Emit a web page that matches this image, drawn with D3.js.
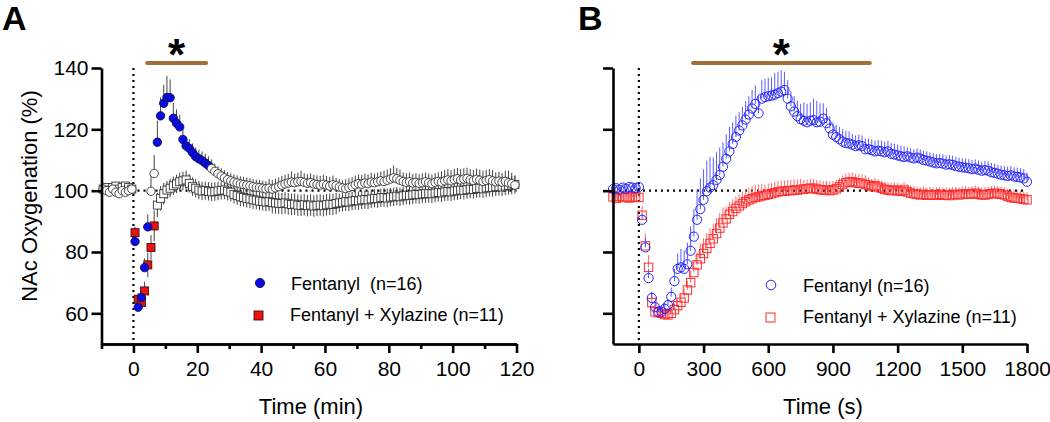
<!DOCTYPE html>
<html>
<head>
<meta charset="utf-8">
<script src="https://cdn.jsdelivr.net/npm/d3@7"></script>
<style>
  body { margin: 0; background: #fff; }
  svg text { font-family: Arial, "Liberation Sans", sans-serif; fill: #000; }
</style>
</head>
<body>
<div id="chart"></div>
<script>
// ---------- data ----------
// panel A: 1-min bins, -10 .. 120 min
const timeA = d3.range(-9.5, 120, 1);
const fentA = [
  100.5, 100, 99.5, 100.5, 99.5, 99, 100, 99.5, 100, 100.5,
  83.4, 62, 65.2, 74.9, 88.2, 99.8, 105.6, 115.8, 124.4, 128.5,
  130.4, 130.3, 123.6, 122, 120.8, 116.7, 114.6, 113.8, 112.4, 111.1,
  110.4, 109.8, 109, 108.2, 107.2, 106.3, 105.5, 104.8, 104.2, 103.6,
  103.2, 102.8, 102.5, 102.2, 102, 101.8, 101.6, 101.3, 101.1, 101,
  100.8, 100.6, 100.8, 100.5, 100.9, 101.3, 101.8, 102.2, 102.5, 102.8,
  102.6, 102.9, 103, 102.7, 102.4, 102.6, 102.2, 102, 101.8, 102.1,
  101.8, 101.5, 101.9, 101.6, 101.2, 100.9, 100.7, 101, 101.4, 101.9,
  102.3, 102.1, 102.5, 102.3, 102.8, 102.6, 102.9, 103.2, 103, 103.4,
  103.8, 104.2, 103.9, 103.4, 103, 102.7, 102.9, 102.5, 102.7, 102.4,
  102.6, 102.9, 102.6, 102.3, 102.7, 103, 102.8, 103.2, 103.5, 103.2,
  103.6, 103.9, 103.5, 103.8, 104, 103.6, 103.3, 103.7, 103.4, 103,
  103.3, 103.6, 103.2, 102.9, 103.1, 102.8, 103, 102.6, 102.3, 101.8
];
const fentAErr = [
  1, 1.2, 1, 0.8, 1, 1.2, 1, 0.8, 1, 1,
  3, 2, 2, 3, 4, 5, 6, 7, 6, 6,
  7, 6, 5, 4.5, 4, 3.5, 3, 3, 3, 3,
  3, 3, 3, 3, 3, 2.5, 2.5, 2.5, 2.5, 2.5,
  2.5, 2.5, 2.5, 2.5, 2.5, 2.5, 2.5, 2.5, 2.5, 2.5,
  2.5, 2.5, 3, 3, 3, 3, 3, 3, 3, 3.5,
  3, 3, 3.5, 3, 3, 3, 3, 3, 3, 3,
  3, 3, 3, 2.5, 2.5, 2.5, 3, 3, 3, 3,
  3, 3, 3, 3, 3, 3, 3, 3, 3.5, 3.5,
  3.5, 4, 3.5, 3.5, 3, 3, 3, 3, 3, 3,
  3, 3, 3, 3, 3, 3, 3.5, 3.5, 3.5, 3.5,
  3.5, 3.5, 3.5, 3.5, 3.5, 3.5, 3.5, 3.5, 3.5, 3.5,
  3.5, 3.5, 3.5, 3, 3, 3, 3.5, 4, 3.5, 3
];
const fxA = [
  100.5, 101, 100.2, 101, 101.5, 100.5, 101, 101.5, 101, 100.5,
  86.3, 64.6, 63.5, 67.3, 75.8, 81.5, 88.5, 95.3, 97.5, 99,
  100.2, 100.8, 101.6, 102.2, 102.9, 103.2, 103.5, 102.4, 101.3, 100.8,
  100.2, 99.9, 100, 99.8, 99.6, 99.7, 99.9, 100.1, 100.2, 99.8,
  99.5, 98.8, 98.4, 98, 97.8, 97.5, 97.3, 97, 96.9, 96.6,
  96.5, 96.3, 96.4, 96.1, 96, 95.9, 95.8, 96, 95.7, 95.5,
  95.6, 95.3, 95.2, 95.4, 95.1, 95.3, 95, 95.2, 95.3, 95.1,
  95.4, 95.6, 95.5, 95.8, 96, 96.2, 96.4, 96.3, 96.6, 96.8,
  96.7, 97, 97.1, 97, 97.3, 97.5, 97.4, 97.7, 97.8, 97.6,
  97.9, 98, 98.2, 98, 98.3, 98.5, 98.4, 98.6, 98.8, 98.7,
  98.9, 99, 99.1, 99, 99.2, 99.4, 99.3, 99.6, 99.7, 99.6,
  99.9, 100, 100.2, 100.1, 100.3, 100.5, 100.4, 100.7, 100.8, 100.6,
  100.9, 101.1, 101, 101.3, 101.4, 101.2, 101.5, 101.7, 101.8, 102
];
const fxAErr = [
  1, 1, 1, 1, 1, 1, 1, 1, 1, 1,
  2, 2, 2, 3, 4, 4, 5, 4, 4, 3.5,
  3, 3, 3, 3, 3, 3, 3, 3, 3, 3,
  3, 3, 3, 3, 3, 3, 3, 3, 3, 3,
  3, 3, 3, 3, 3, 3, 3, 3, 3, 3,
  3, 3, 3, 3.5, 3.5, 3.5, 3.5, 3.5, 3.5, 3.5,
  3.5, 3.5, 3.5, 3.5, 3.5, 3.5, 3.5, 3.5, 3.5, 3.5,
  3.5, 3.5, 3.5, 3.5, 3, 3, 3, 3, 3, 3,
  3, 3, 3, 3, 3, 3, 3, 3, 3, 3,
  3, 3, 3, 3, 3, 3, 3, 3, 3, 3,
  3, 3, 3, 3, 3, 3, 3, 3, 3, 3,
  3, 3, 3, 3, 3, 3, 3, 3, 3, 3,
  3, 3, 3, 3, 3, 3, 3, 3, 3, 3
];
// time windows (min) where markers are coloured (p < 0.05)
const sigFentA = [[0, 5], [7, 24]];
const sigFxA = [[0, 7]];
const barA = [4.3, 22.8];

// panel B: 15-s bins, -120 .. 1800 s
const timeB = d3.range(-120, 1801, 15);
const fentB = [
  100.5, 100.8, 100.3, 101, 100.6, 101.2, 101, 100.8, 101.2,
  90.5, 81.5, 71.5, 65, 62, 60.5, 60.5, 61.5, 62.7, 65.4,
  70.5, 74.5, 75, 74.5, 76, 80.4, 85, 90.5, 94, 97,
  99.8, 101, 101.8, 103.5, 105.1, 107.8, 110.4, 112.8, 115.2, 117.5,
  119.6, 121.3, 123.2, 124.8, 126.8, 128.3, 125.2, 130, 130.5, 130.8,
  131, 131.3, 131.8, 132.3, 132.8, 130, 127.5, 125.8, 124.3, 123.3,
  122.8, 122.3, 122.8, 123, 122.3, 122.5, 123.5, 122, 120.3, 118.3,
  117.5, 116.8, 116, 115.5, 115.4, 115, 114.5, 114.8, 114.5, 113.5,
  113.5, 113.2, 112.8, 113, 112.8, 112.5, 112.8, 112, 111.8, 111.5,
  111.2, 111, 111.2, 110.8, 110.5, 110.8, 110.5, 110, 109.8, 109.5,
  109.2, 108.9, 109, 108.8, 108.5, 108.6, 108.4, 108, 107.8, 107.6,
  107.5, 107.3, 107, 107.2, 106.8, 106.5, 106.7, 106.5, 106, 105.8,
  105.5, 105.2, 105, 104.8, 105, 104.6, 104.5, 104.3, 104, 102.9
];
const fentBErr = [
  1, 1, 1, 1, 1, 1, 1, 1, 1,
  2, 3, 3, 2, 2, 2, 2, 2, 2, 3,
  4, 5, 6, 6, 7, 8, 9, 10, 10, 10,
  10, 10, 9, 9, 9, 8, 8, 8, 7, 7,
  6, 6, 6, 6, 6, 6, 6, 6, 6, 6,
  6, 7, 7, 7, 6, 6, 5, 5, 5, 5,
  6, 6, 6, 7, 7, 6, 5, 5, 4, 4,
  4, 4, 4, 4, 4, 3.5, 3.5, 3.5, 3.5, 3.5,
  3.5, 3.5, 3.5, 3.5, 3.5, 3.5, 3.5, 3.5, 3.5, 3.5,
  3.5, 3.5, 3, 3, 3, 3, 3, 3, 3, 3,
  3, 3, 3, 3, 3, 3, 3, 3, 3, 3,
  3, 3, 3, 3, 3, 3, 3, 3, 3, 3,
  3, 3, 3, 3, 3, 3, 3, 3, 3, 3
];
const fxB = [
  98, 97.5, 98.2, 97.8, 98, 97.6, 97.8, 98, 97.8,
  92, 82, 75, 63.5, 60.5, 60.2, 60, 59.6, 59.5, 60,
  61.2, 62.5, 63.6, 65, 67.6, 70, 73.3, 75.8, 77.8, 79.5,
  81.2, 82.8, 84.3, 86, 87.8, 89.5, 90.8, 92.3, 93.2, 94.2,
  95, 95.8, 96.4, 97, 97.4, 97.8, 98, 98.3, 98.5, 98.8,
  99, 99.3, 99.6, 99.8, 99.8, 100, 100, 100.2, 100.2, 100.4,
  100.5, 100.6, 100.8, 100.8, 100.5, 100.3, 100.2, 100.2, 100, 100.2,
  100.6, 101.2, 102, 102.6, 102.8, 102.9, 102.6, 102.4, 102.4, 102,
  101.8, 101.3, 101.6, 101.2, 100.8, 100.4, 100.2, 100, 100.2, 100,
  99.8, 100.2, 99.6, 99.2, 99, 98.8, 98.6, 98.8, 98.5, 98.7,
  98.5, 98.6, 98.8, 98.5, 98.6, 98.4, 98.7, 98.8, 98.6, 98.9,
  99, 98.8, 99, 99.2, 98.8, 98.6, 98.6, 98.8, 99, 99.2,
  99, 98.8, 98.6, 98.2, 97.8, 97.6, 97.5, 97.4, 97.2, 97
];
const fxBErr = [
  1, 1, 1, 1, 1, 1, 1, 1, 1,
  3, 4, 4, 3, 2, 2, 2, 2, 2, 2,
  2, 2, 3, 3, 3, 4, 4, 4, 5, 5,
  5, 5, 5, 5, 5, 5, 4, 4, 4, 4,
  4, 4, 4, 4, 4, 4, 4, 4, 3.5, 3.5,
  3.5, 3.5, 3.5, 3.5, 3.5, 3.5, 3.5, 3.5, 3.5, 3.5,
  3, 3, 3, 3, 3, 3, 3, 3, 3, 3,
  3, 3, 3, 3, 3, 3, 3, 3, 3, 3,
  2.5, 2.5, 2.5, 2.5, 2.5, 2.5, 2.5, 2.5, 2.5, 2.5,
  2.5, 2.5, 2.5, 2.5, 2.5, 2.5, 2.5, 2.5, 2.5, 2.5,
  2.5, 2.5, 2.5, 2.5, 2.5, 2.5, 2.5, 2.5, 2.5, 2.5,
  2.5, 2.5, 2.5, 2.5, 2.5, 2.5, 2.5, 2.5, 2.5, 2.5,
  2.5, 2.5, 2.5, 2.5, 2.5, 2.5, 2.5, 2.5, 2.5, 2.5
];
const barB = [251, 1071];

const yTicks = [60, 80, 100, 120, 140];
const xTicksA = [0, 20, 40, 60, 80, 100, 120];
const xMinorA = [-10, 10, 30, 50, 70, 90, 110];
const xTicksB = [0, 300, 600, 900, 1200, 1500, 1800];
const legendA = ["Fentanyl  (n=16)", "Fentanyl + Xylazine (n=11)"];
const legendB = ["Fentanyl (n=16)", "Fentanyl + Xylazine (n=11)"];

// ---------- layout ----------
const width = 1050, height = 422;
const brown = "#a06f3c";

const svg = d3.select("#chart").append("svg")
  .attr("width", width)
  .attr("height", height);

const yScale = d3.scaleLinear().domain([50, 140]).range([344, 68]);
const xA = d3.scaleLinear().domain([-10, 120]).range([101.5, 516.5]);
const xB = d3.scaleLinear().domain([-120, 1800]).range([613, 1027]);

const inWin = (t, wins) => wins.some(w => t > w[0] && t < w[1]);

function styleAxis(g) {
  g.select(".domain").attr("stroke", "#000").attr("stroke-width", 2.6);
  g.selectAll(".tick line").attr("stroke", "#000").attr("stroke-width", 2.6);
  g.selectAll(".tick text").attr("font-size", 21).attr("fill", "#000");
}

function refLines(x, x0, x1) {
  // dotted baseline at 100 % and injection line at t = 0
  svg.append("line")
    .attr("x1", x(x0)).attr("x2", x(x1))
    .attr("y1", yScale(100)).attr("y2", yScale(100))
    .attr("stroke", "#000").attr("stroke-width", 2.2)
    .attr("stroke-dasharray", "2,4");
  svg.append("line")
    .attr("x1", x(0)).attr("x2", x(0))
    .attr("y1", yScale(140)).attr("y2", yScale(50))
    .attr("stroke", "#000").attr("stroke-width", 2.2)
    .attr("stroke-dasharray", "2,4");
}

// ================= Panel A =================
refLines(xA, -10, 120);

const rowsFentA = timeA.map((t, i) => ({ t, v: fentA[i], e: fentAErr[i], sig: inWin(t, sigFentA) }));
const rowsFxA = timeA.map((t, i) => ({ t, v: fxA[i], e: fxAErr[i], sig: inWin(t, sigFxA) }));

// squares: bars both ways
const gSqA = svg.append("g");
gSqA.selectAll("line")
  .data(rowsFxA)
  .enter()
  .append("line")
  .attr("x1", d => xA(d.t)).attr("x2", d => xA(d.t))
  .attr("y1", d => yScale(d.v - d.e)).attr("y2", d => yScale(d.v + d.e))
  .attr("stroke", "#444").attr("stroke-width", 1);
gSqA.selectAll("rect")
  .data(rowsFxA)
  .enter()
  .append("rect")
  .attr("x", d => xA(d.t) - 4).attr("y", d => yScale(d.v) - 4)
  .attr("width", 8).attr("height", 8)
  .attr("fill", d => d.sig ? "#ee1010" : "#fff")
  .attr("stroke", d => d.sig ? "#3a1010" : "#333")
  .attr("stroke-width", 0.9);

// circles: bars upward
const gCiA = svg.append("g");
gCiA.selectAll("line")
  .data(rowsFentA)
  .enter()
  .append("line")
  .attr("x1", d => xA(d.t)).attr("x2", d => xA(d.t))
  .attr("y1", d => yScale(d.v)).attr("y2", d => yScale(d.v + d.e))
  .attr("stroke", "#444").attr("stroke-width", 1);
gCiA.selectAll("circle")
  .data(rowsFentA)
  .enter()
  .append("circle")
  .attr("cx", d => xA(d.t)).attr("cy", d => yScale(d.v))
  .attr("r", 4.2)
  .attr("fill", d => d.sig ? "#0a0ae6" : "#fff")
  .attr("stroke", d => d.sig ? "#10104a" : "#333")
  .attr("stroke-width", 0.9);

svg.append("g")
  .attr("transform", "translate(0,344)")
  .call(d3.axisBottom(xA).tickValues(xMinorA).tickSize(5).tickSizeOuter(0).tickFormat(""))
  .call(styleAxis);
svg.append("g")
  .attr("transform", "translate(0,344)")
  .call(d3.axisBottom(xA).tickValues(xTicksA).tickSize(9).tickSizeOuter(0).tickPadding(8))
  .call(styleAxis);
svg.append("g")
  .attr("transform", `translate(${xA.range()[0]},0)`)
  .call(d3.axisLeft(yScale).tickValues(yTicks).tickSize(10).tickSizeOuter(0).tickPadding(3))
  .call(styleAxis);

svg.append("text")
  .attr("transform", "translate(37,196) rotate(-90)")
  .attr("text-anchor", "middle")
  .attr("font-size", 22)
  .text("NAc Oxygenation (%)");
svg.append("text")
  .attr("x", (xA.range()[0] + xA.range()[1]) / 2 + 2)
  .attr("y", 414)
  .attr("text-anchor", "middle")
  .attr("font-size", 22)
  .text("Time (min)");

svg.append("line")
  .attr("x1", xA(barA[0])).attr("x2", xA(barA[1]))
  .attr("y1", 63).attr("y2", 63)
  .attr("stroke", brown).attr("stroke-width", 4).attr("stroke-linecap", "round");
svg.append("text")
  .attr("x", xA((barA[0] + barA[1]) / 2)).attr("y", 70)
  .attr("text-anchor", "middle")
  .attr("font-size", 44).attr("font-weight", "bold")
  .text("*");

// legend A
svg.append("circle").attr("cx", 260).attr("cy", 283).attr("r", 4.6)
  .attr("fill", "#0a0ae6").attr("stroke", "#10104a").attr("stroke-width", 0.9);
svg.append("rect").attr("x", 254).attr("y", 311).attr("width", 9).attr("height", 9)
  .attr("fill", "#ee1010").attr("stroke", "#3a1010").attr("stroke-width", 0.9);
svg.append("text").attr("x", 291).attr("y", 290).attr("font-size", 18)
  .style("white-space", "pre").text(legendA[0]);
svg.append("text").attr("x", 290).attr("y", 321).attr("font-size", 18)
  .text(legendA[1]);

svg.append("text").attr("x", 2).attr("y", 30)
  .attr("font-size", 34).attr("font-weight", "bold").text("A");

// ================= Panel B =================
refLines(xB, -120, 1800);

const rowsFentB = timeB.map((t, i) => ({ t, v: fentB[i], e: fentBErr[i] }));
const rowsFxB = timeB.map((t, i) => ({ t, v: fxB[i], e: fxBErr[i] }));

const gSqB = svg.append("g");
gSqB.selectAll("line")
  .data(rowsFxB)
  .enter()
  .append("line")
  .attr("x1", d => xB(d.t)).attr("x2", d => xB(d.t))
  .attr("y1", d => yScale(d.v)).attr("y2", d => yScale(d.v + d.e))
  .attr("stroke", "#ff6a6a").attr("stroke-width", 1);
gSqB.selectAll("rect")
  .data(rowsFxB)
  .enter()
  .append("rect")
  .attr("x", d => xB(d.t) - 4.2).attr("y", d => yScale(d.v) - 4.2)
  .attr("width", 8.4).attr("height", 8.4)
  .attr("fill", "none")
  .attr("stroke", "#ff2e2e")
  .attr("stroke-width", 1);

const gCiB = svg.append("g");
gCiB.selectAll("line")
  .data(rowsFentB)
  .enter()
  .append("line")
  .attr("x1", d => xB(d.t)).attr("x2", d => xB(d.t))
  .attr("y1", d => yScale(d.v)).attr("y2", d => yScale(d.v + d.e))
  .attr("stroke", "#5a5aff").attr("stroke-width", 1);
gCiB.selectAll("circle")
  .data(rowsFentB)
  .enter()
  .append("circle")
  .attr("cx", d => xB(d.t)).attr("cy", d => yScale(d.v))
  .attr("r", 4.6)
  .attr("fill", "none")
  .attr("stroke", "#2626ff")
  .attr("stroke-width", 1);

svg.append("g")
  .attr("transform", "translate(0,344)")
  .call(d3.axisBottom(xB).tickValues(xTicksB).tickSize(9).tickSizeOuter(0).tickPadding(8)
    .tickFormat(d3.format("d")))
  .call(styleAxis);
svg.append("g")
  .attr("transform", `translate(${xB.range()[0]},0)`)
  .call(d3.axisLeft(yScale).tickValues(yTicks).tickSize(10).tickSizeOuter(0).tickFormat(""))
  .call(styleAxis);

svg.append("text")
  .attr("x", xB(900) - 10)
  .attr("y", 414)
  .attr("text-anchor", "middle")
  .attr("font-size", 22)
  .text("Time (s)");

svg.append("line")
  .attr("x1", xB(barB[0])).attr("x2", xB(barB[1]))
  .attr("y1", 63).attr("y2", 63)
  .attr("stroke", brown).attr("stroke-width", 4).attr("stroke-linecap", "round");
svg.append("text")
  .attr("x", xB((barB[0] + barB[1]) / 2)).attr("y", 70)
  .attr("text-anchor", "middle")
  .attr("font-size", 44).attr("font-weight", "bold")
  .text("*");

// legend B
svg.append("circle").attr("cx", 771).attr("cy", 285).attr("r", 4.8)
  .attr("fill", "none").attr("stroke", "#2626ff").attr("stroke-width", 1);
svg.append("rect").attr("x", 766).attr("y", 313).attr("width", 9).attr("height", 9)
  .attr("fill", "none").attr("stroke", "#ff2e2e").attr("stroke-width", 1);
svg.append("text").attr("x", 803).attr("y", 292).attr("font-size", 18)
  .text(legendB[0]);
svg.append("text").attr("x", 803).attr("y", 323).attr("font-size", 18)
  .text(legendB[1]);

svg.append("text").attr("x", 578).attr("y", 30)
  .attr("font-size", 34).attr("font-weight", "bold").text("B");
</script>
</body>
</html>
